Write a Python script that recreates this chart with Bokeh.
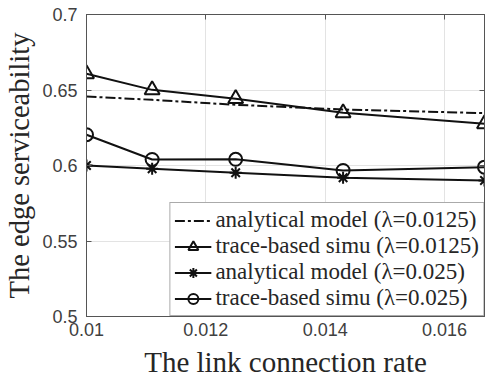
from bokeh.plotting import figure
from bokeh.models import FixedTicker, LinearAxis, Range1d, Legend, LegendItem
from bokeh.embed import file_html
from bokeh.resources import INLINE

# Data
link_rate = [0.0100, 0.0111, 0.0125, 0.0143, 0.01667]
analytical_0125 = [0.6457, 0.6435, 0.6402, 0.6371, 0.6347]
trace_0125 = [0.6607, 0.6501, 0.6442, 0.6349, 0.6276]
analytical_025 = [0.6000, 0.5978, 0.5952, 0.5919, 0.5901]
trace_025 = [0.6204, 0.6040, 0.6041, 0.5967, 0.5989]

x_ticks = [0.010, 0.012, 0.014, 0.016]
x_tick_labels = ["0.01", "0.012", "0.014", "0.016"]
y_ticks = [0.50, 0.55, 0.60, 0.65, 0.70]
y_tick_labels = ["0.5", "0.55", "0.6", "0.65", "0.7"]

labels = [
    "analytical model (\u03bb=0.0125)",
    "trace-based simu (\u03bb=0.0125)",
    "analytical model (\u03bb=0.025)",
    "trace-based simu (\u03bb=0.025)",
]

AX = "#555555"
TXT = "#262626"
SERIF = "Liberation Serif"
SANS = "Liberation Sans"

p = figure(frame_width=398, frame_height=302,
           min_border_left=86, min_border_right=5, min_border_top=14, min_border_bottom=66,
           output_backend="svg", toolbar_location=None,
           x_range=Range1d(0.01, 0.01667), y_range=Range1d(0.5, 0.7))
p.background_fill_color = "white"
p.border_fill_color = "white"
p.outline_line_color = AX
p.outline_line_width = 1

for ax, ticks, tl in ((p.xaxis[0], x_ticks, x_tick_labels), (p.yaxis[0], y_ticks, y_tick_labels)):
    ax.ticker = FixedTicker(ticks=ticks)
    ax.major_label_overrides = {t: l for t, l in zip(ticks, tl)}
    ax.major_label_text_font = SANS
    ax.major_label_text_font_size = "18px"
    ax.major_label_text_color = "#404040"
    ax.axis_line_color = AX
    ax.major_tick_line_color = AX
    ax.major_tick_in = 5
    ax.major_tick_out = 0
    ax.minor_tick_line_color = None
    ax.axis_label_text_font = SERIF
    ax.axis_label_text_font_style = "normal"
    ax.axis_label_text_color = TXT

p.xaxis.axis_label = "The link connection rate"
p.yaxis.axis_label = "The edge serviceability"
p.xaxis.axis_label_text_font_size = "29px"
p.yaxis.axis_label_text_font_size = "28.5px"
p.xaxis.major_label_standoff = 6
p.yaxis.major_label_standoff = 9
p.xaxis.axis_label_standoff = 7
p.yaxis.axis_label_standoff = 4

# mirrored axes (ticks only, labels not drawn) on top and right
mirror = dict(major_label_text_font_size="1px", major_label_text_color=None,
              major_label_standoff=0, major_tick_in=5, major_tick_out=0,
              minor_tick_line_color=None, axis_line_color=AX, major_tick_line_color=AX)
top = LinearAxis(ticker=FixedTicker(ticks=x_ticks), **mirror)
right = LinearAxis(ticker=FixedTicker(ticks=y_ticks), **mirror)
p.add_layout(top, "above")
p.add_layout(right, "right")

p.grid.grid_line_color = "#e3e3e3"
p.grid.grid_line_width = 1
p.xgrid.ticker = FixedTicker(ticks=x_ticks)
p.ygrid.ticker = FixedTicker(ticks=y_ticks)

LC = "#111111"
LW = 2

r1 = p.line(link_rate, analytical_0125, line_color=LC, line_width=LW, line_dash="10 3 3 3")
r2l = p.line(link_rate, trace_0125, line_color=LC, line_width=LW)
r2m = p.scatter(link_rate, trace_0125, marker="triangle", size=15, fill_color="white",
                fill_alpha=0, line_color=LC, line_width=2)
r3l = p.line(link_rate, analytical_025, line_color=LC, line_width=LW)
r3m = p.scatter(link_rate, analytical_025, marker="asterisk", size=12, line_color=LC, line_width=2)
r4l = p.line(link_rate, trace_025, line_color=LC, line_width=LW)
r4m = p.scatter(link_rate, trace_025, marker="circle", size=13, fill_color="white",
                fill_alpha=0, line_color=LC, line_width=2)

legend = Legend(items=[
    LegendItem(label=labels[0], renderers=[r1]),
    LegendItem(label=labels[1], renderers=[r2l, r2m]),
    LegendItem(label=labels[2], renderers=[r3l, r3m]),
    LegendItem(label=labels[3], renderers=[r4l, r4m]),
], location="bottom_right")
legend.label_text_font = SERIF
legend.label_text_font_size = "23px"
legend.label_text_color = TXT
legend.glyph_width = 37
legend.glyph_height = 25
legend.label_height = 25
legend.label_standoff = 4
legend.spacing = 0
legend.padding = 4
legend.margin = 0
legend.border_line_color = AX
legend.border_line_width = 1
legend.background_fill_alpha = 1
p.add_layout(legend)

open("out.html", "w").write(file_html(p, INLINE))
